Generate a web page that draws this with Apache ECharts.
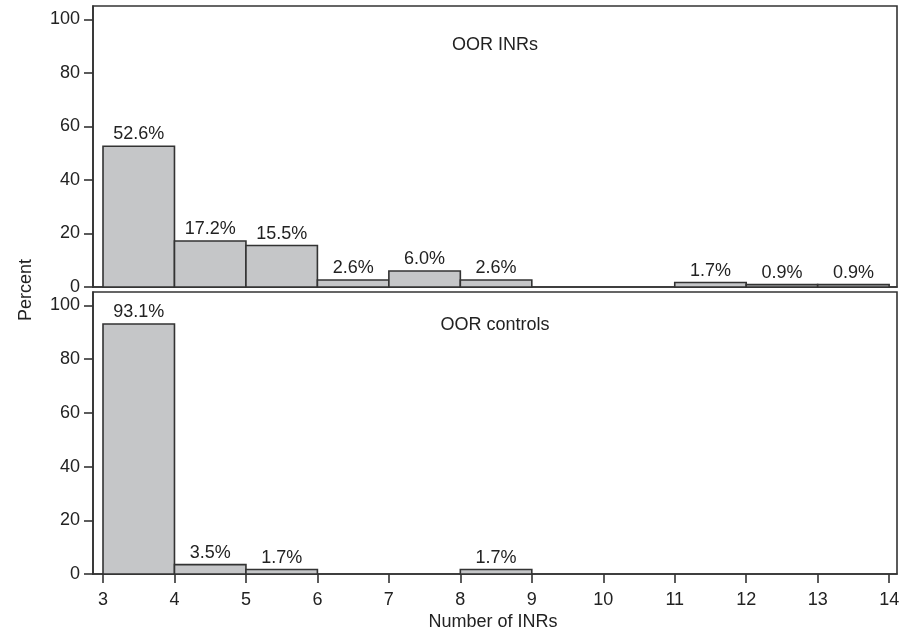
<!DOCTYPE html>
<html>
<head>
<meta charset="utf-8">
<script src="https://cdn.jsdelivr.net/npm/echarts@6/dist/echarts.min.js"></script>
<style>
  html, body { margin: 0; padding: 0; background: #fff; }
  #chart { width: 907px; height: 639px; }
</style>
</head>
<body>
<div id="chart"></div>
<script>
// histogram bins: each bar spans [binStart, binStart + 1]
const binStarts = [3, 4, 5, 6, 7, 8, 9, 10, 11, 12, 13];
const inrPercent = [52.6, 17.2, 15.5, 2.6, 6.0, 2.6, 0, 0, 1.7, 0.9, 0.9];
const controlPercent = [93.1, 3.5, 1.7, 0, 0, 1.7, 0, 0, 0, 0, 0];
const xTicks = [3, 4, 5, 6, 7, 8, 9, 10, 11, 12, 13, 14];
const yTicks = [0, 20, 40, 60, 80, 100];
const panelTitles = ['OOR INRs', 'OOR controls'];

const FONT = "'Liberation Sans', Arial, Helvetica, sans-serif";
const INK = '#222';

// build [start, end, value] rows, skipping empty bins
const toRows = (vals) => binStarts
  .map((s, i) => [s, s + 1, vals[i]])
  .filter(r => r[2] > 0);

const renderBar = (params, api) => {
  const topLeft = api.coord([api.value(0), api.value(2)]);
  const bottomRight = api.coord([api.value(1), 0]);
  return {
    type: 'rect',
    shape: {
      x: topLeft[0],
      y: topLeft[1],
      width: bottomRight[0] - topLeft[0],
      height: bottomRight[1] - topLeft[1]
    },
    style: { fill: '#c5c6c8', stroke: '#333', lineWidth: 1.6 },
    textContent: {
      style: {
        text: api.value(2).toFixed(1) + '%',
        fill: INK,
        font: '18px ' + FONT
      }
    },
    textConfig: { position: 'top', distance: 2 }
  };
};

const xAxisBase = (gridIndex, showLabels) => ({
  type: 'value',
  gridIndex: gridIndex,
  min: 2.86,
  max: 14.11,
  splitLine: { show: false },
  axisLine: { show: true, lineStyle: { color: '#333', width: 1.6 } },
  axisTick: {
    show: showLabels,
    length: 9,
    customValues: xTicks,
    lineStyle: { color: '#333', width: 1.6 }
  },
  axisLabel: {
    show: showLabels,
    customValues: xTicks,
    color: INK,
    fontSize: 18,
    fontFamily: FONT,
    margin: 17
  }
});

const yAxisBase = (gridIndex) => ({
  type: 'value',
  gridIndex: gridIndex,
  min: 0,
  max: 105,
  splitLine: { show: false },
  axisLine: { show: true, lineStyle: { color: '#333', width: 1.6 } },
  axisTick: {
    show: true,
    length: 9,
    customValues: yTicks,
    lineStyle: { color: '#333', width: 1.6 }
  },
  axisLabel: {
    customValues: yTicks,
    color: INK,
    fontSize: 18,
    fontFamily: FONT,
    margin: 13
  }
});

const chart = echarts.init(document.getElementById('chart'));
chart.setOption({
  backgroundColor: '#fff',
  animation: false,
  grid: [
    { left: 93, right: 10, top: 6, height: 281, show: true, borderColor: '#333', borderWidth: 1.6 },
    { left: 93, right: 10, top: 292, bottom: 65, show: true, borderColor: '#333', borderWidth: 1.6 }
  ],
  xAxis: [xAxisBase(0, false), xAxisBase(1, true)],
  yAxis: [yAxisBase(0), yAxisBase(1)],
  graphic: [
    {
      type: 'text', x: 495, y: 45,
      style: { text: panelTitles[0], font: '18px ' + FONT, fill: INK, align: 'center', verticalAlign: 'middle' }
    },
    {
      type: 'text', x: 495, y: 325,
      style: { text: panelTitles[1], font: '18px ' + FONT, fill: INK, align: 'center', verticalAlign: 'middle' }
    },
    {
      type: 'text', x: 26, y: 290, rotation: Math.PI / 2,
      style: { text: 'Percent', font: '18px ' + FONT, fill: INK, align: 'center', verticalAlign: 'middle' }
    },
    {
      type: 'text', x: 493, y: 622,
      style: { text: 'Number of INRs', font: '18px ' + FONT, fill: INK, align: 'center', verticalAlign: 'middle' }
    }
  ],
  series: [
    {
      type: 'custom',
      xAxisIndex: 0, yAxisIndex: 0,
      renderItem: renderBar,
      encode: { x: [0, 1], y: 2 },
      data: toRows(inrPercent)
    },
    {
      type: 'custom',
      xAxisIndex: 1, yAxisIndex: 1,
      renderItem: renderBar,
      encode: { x: [0, 1], y: 2 },
      data: toRows(controlPercent)
    }
  ]
});
</script>
</body>
</html>
